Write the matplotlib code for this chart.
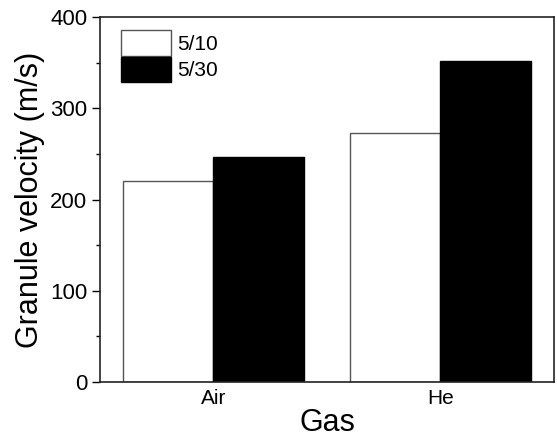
import numpy as np
import matplotlib
matplotlib.use("Agg")
from matplotlib import pyplot as plt
from matplotlib.ticker import MultipleLocator

plt.rcParams['font.family'] = ['Liberation Sans', 'DejaVu Sans']

gases = ["Air", "He"]
labels = ["5/10", "5/30"]
v_510 = [220, 273]
v_530 = [247, 352]

fig = plt.figure(figsize=(5.57, 4.38), dpi=100)
ax = fig.add_axes([0.1795, 0.128, 0.815, 0.833])

x = np.arange(len(gases))
w = 0.4
ax.bar(x - w / 2, v_510, w, color="white", edgecolor="#555555", linewidth=1.0, label=labels[0])
ax.bar(x + w / 2, v_530, w, color="black", edgecolor="black", linewidth=1.0, label=labels[1])

ax.set_xlim(-0.5, 1.5)
ax.set_ylim(0, 400)
ax.set_xticks(x)
ax.set_xticklabels(gases, fontsize=15)
ax.tick_params(axis="x", length=0, pad=5)
ax.yaxis.set_major_locator(MultipleLocator(100))
ax.yaxis.set_minor_locator(MultipleLocator(50))
ax.tick_params(axis="y", which="major", length=6, width=1, labelsize=16, direction="out", pad=3)
ax.tick_params(axis="y", which="minor", length=3, width=1, direction="out")
for s in ax.spines.values():
    s.set_linewidth(1.2)
    s.set_color("#222222")

ax.set_ylabel("Granule velocity (m/s)", fontsize=22, labelpad=4)
ax.set_xlabel("Gas", fontsize=22, labelpad=0)

ax.legend(loc="upper left", bbox_to_anchor=(0.005, 1.015), frameon=False, fontsize=15,
          handlelength=2.4, handleheight=1.5, handletextpad=0.3, labelspacing=0.05)

fig.savefig("out.png", dpi=100)
